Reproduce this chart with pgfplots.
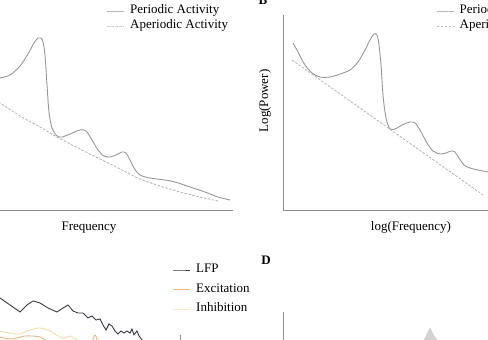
\documentclass[border=0pt]{standalone}
\usepackage{fontspec}
\setmainfont{Liberation Serif}
\usepackage{pgfplots}
\pgfplotsset{compat=1.18}
\usepackage{pgfplotstable}

\definecolor{perc}{HTML}{979797}
\definecolor{aper}{HTML}{B8B8B8}
\definecolor{axc}{HTML}{8E8E8E}
\definecolor{lfp}{HTML}{363A40}
\definecolor{exc}{HTML}{EBB57E}
\definecolor{inh}{HTML}{EEDFAA}
\definecolor{peak}{HTML}{D2D2D2}

\pgfplotstableread{
x y
-5 79
0 78
10 75
20 66
28 54
34 43
38 38
41 38
43 42
45 55
47 85
49 112
52 128
57 136
62 137
70 134
80 130
86 131
92 140
98 150
104 156
110 157
116 155
122 152
126 153
130 160
134 168
140 175
150 178
165 180
175 182
190 187
205 192
218 197
230 200
}\Aper

\pgfplotstableread{
x y
-5 100
0 103
20 116
40 127
57 137
80 149
100 159
120 169
140 179
160 186
180 192
200 197
218 201
}\Aaper

\pgfplotstableread{
x y
293 43
298 52
305 65
312 73
320 77
330 77
340 74
350 70
358 62
365 50
370 40
374 34
377 35
379 45
381 65
383 95
385 112
387 122
390 129
395 129
402 125
410 122
415 123
420 130
427 143
433 151
440 154
446 153
451 151
455 152
459 158
464 165
470 168
478 170
488 172
495 173
}\Bper

\pgfplotstableread{
x y
292 60
483 195
}\Baper

\pgfplotstableread{
x y
-5 296
0 298
10 305
20 312
27 305
33 301
40 303
48 308
57 312
63 308
68 305
73 311
78 313
83 313
88 318
92 316
96 320
100 319
103 325
106 330
109 324
112 326
115 331
118 334
121 331
124 333
127 331
130 333
132 329
134 335
137 331
139 336
142 340
145 345
}\Clfp

\pgfplotstableread{
x y
0 337
12 339
25 336
40 337
50 343
70 346
90 343
95 335
99 343
110 346
}\Cexc

\pgfplotstableread{
x y
0 331
10 333
20 334
30 330
40 328
50 331
58 336
64 338
70 336
80 342
}\Cinh

\pgfplotstableread{
x y
424 340
427 334
429 330
430 328
432 332
434 336
437 340
}\Dpeak

\pgfplotsset{
  panel/.style={
    scale only axis, clip=false,
    xtick=\empty, ytick=\empty,
    axis line style={draw=axc, line width=0.8pt},
  },
  lgd/.style={
    legend cell align=left,
    legend style={draw=none, fill=none, inner sep=0pt, anchor=west,
      font=\fontsize{13}{15}\selectfont,
      nodes={inner sep=1.5pt, text height=9pt, text depth=3pt},
      column sep=4pt},
  },
}

\begin{document}
\begin{tikzpicture}
\path[use as bounding box] (0pt,0pt) rectangle (488pt,340pt);
\clip (0pt,0pt) rectangle (488pt,340pt);

% Panel A
\begin{axis}[panel, lgd,
  at={(-20pt,130pt)}, anchor=south west,
  width=253pt, height=195pt,
  xmin=-20, xmax=233, ymin=130, ymax=325,
  axis x line*=bottom, axis y line*=left,
  legend style={at={(axis cs:106.5,321.5)}, row sep=0pt}]
\addplot[perc, mark=none, line width=0.9pt, smooth] table[x=x, y expr=340-\thisrow{y}] {\Aper};
\addlegendentry{Periodic Activity}
\addplot[aper, mark=none, line width=0.9pt, dash pattern=on 2.5pt off 1.5pt, smooth] table[x=x, y expr=340-\thisrow{y}] {\Aaper};
\addlegendentry{Aperiodic Activity}
\end{axis}

% Panel B
\begin{axis}[panel, lgd,
  at={(283pt,130pt)}, anchor=south west,
  width=217pt, height=195pt,
  xmin=283, xmax=500, ymin=130, ymax=325,
  axis x line*=bottom, axis y line*=left,
  legend style={at={(axis cs:436,321.5)}, row sep=0pt}]
\addplot[perc, mark=none, line width=0.9pt, smooth] table[x=x, y expr=340-\thisrow{y}] {\Bper};
\addlegendentry{Periodic Activity}
\addplot[aper, mark=none, line width=0.9pt, dash pattern=on 2.5pt off 1.5pt] table[x=x, y expr=340-\thisrow{y}] {\Baper};
\addlegendentry{Aperiodic Activity}
\end{axis}

% Panel C
\begin{axis}[panel, lgd, hide axis,
  at={(-20pt,-40pt)}, anchor=south west,
  width=220pt, height=100pt,
  xmin=-20, xmax=200, ymin=-40, ymax=60,
  legend style={at={(axis cs:172.5,50.5)}, row sep=4.5pt}]
\addplot[lfp, mark=none, line width=0.9pt] table[x=x, y expr=340-\thisrow{y}] {\Clfp};
\addlegendentry{LFP}
\addplot[exc, mark=none, line width=0.9pt, smooth] table[x=x, y expr=340-\thisrow{y}] {\Cexc};
\addlegendentry{Excitation}
\addplot[inh, mark=none, line width=0.9pt, smooth] table[x=x, y expr=340-\thisrow{y}] {\Cinh};
\addlegendentry{Inhibition}
\addplot[axc, mark=none, line width=0.6pt, forget plot] coordinates {(180,5) (180,-5)};
\end{axis}

% Panel D
\begin{axis}[panel,
  at={(283pt,-40pt)}, anchor=south west,
  width=217pt, height=68pt,
  xmin=283, xmax=500, ymin=-40, ymax=28,
  axis x line=none, axis y line*=left]
\addplot[draw=peak, fill=peak, mark=none, line width=0.5pt] table[x=x, y expr=340-\thisrow{y}] {\Dpeak};
\end{axis}

% labels
\node[font=\fontsize{13}{15}\selectfont] at (89pt,112.5pt) {Frequency};
\node[font=\fontsize{13}{15}\selectfont] at (411pt,112.5pt) {log(Frequency)};
\node[font=\fontsize{13}{15}\selectfont, rotate=90] at (265pt,239pt) {Log(Power)};
\node[font=\fontsize{13}{15}\selectfont\bfseries, anchor=base] at (263pt,335.5pt) {B};
\node[font=\fontsize{13}{15}\selectfont\bfseries, anchor=base] at (266pt,75pt) {D};
\end{tikzpicture}
\end{document}
